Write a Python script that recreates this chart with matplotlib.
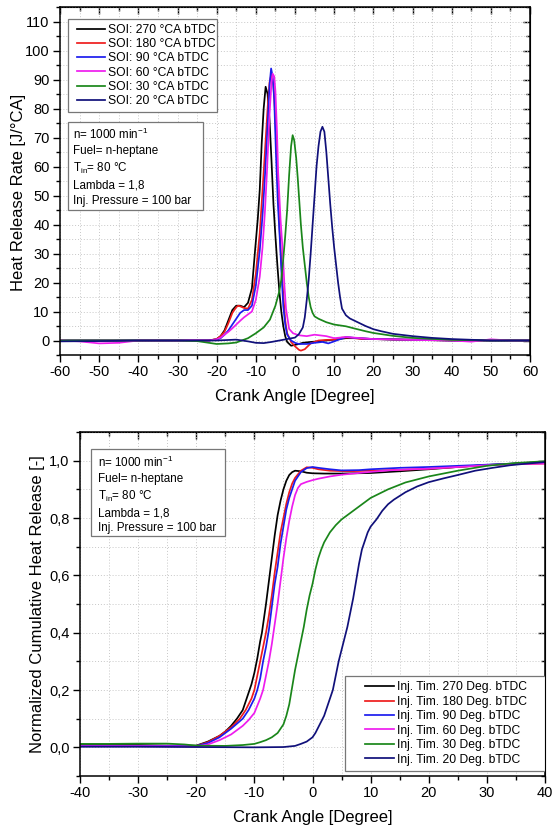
import matplotlib
matplotlib.use("Agg")
import matplotlib.pyplot as plt
from matplotlib.ticker import MultipleLocator, FuncFormatter
from matplotlib.patches import Rectangle

plt.rcParams['font.family'] = ['Liberation Sans', 'DejaVu Sans']
plt.rcParams['mathtext.fontset'] = 'custom'
plt.rcParams['mathtext.rm'] = 'Liberation Sans'
plt.rcParams['mathtext.it'] = 'Liberation Sans:italic'
plt.rcParams['mathtext.default'] = 'regular'
plt.rcParams['axes.unicode_minus'] = False

# ---------------- data: heat release rate (top) ----------------
hrr_labels = ["SOI: 270 °CA bTDC", "SOI: 180 °CA bTDC", "SOI: 90 °CA bTDC",
              "SOI: 60 °CA bTDC", "SOI: 30 °CA bTDC", "SOI: 20 °CA bTDC"]
colors = ["#000000", "#ee1c1c", "#1c1cee", "#ee1cee", "#1a861a", "#10107a"]

hrr_x_270 = [-60, -50, -40, -30, -25, -22, -20, -19, -18, -17, -16, -15, -14, -13, -12, -11, -10.2, -9.5, -9,
             -8.5, -8, -7.5, -7, -6.5, -6, -5.5, -5, -4.5, -4, -3.5, -3, -2.5, -2, -1, 0, 1, 2, 4, 6, 8, 10,
             13, 16, 20, 25, 30, 40, 50, 60]
hrr_y_270 = [0, 0, 0, 0, 0, 0, 0.5, 1.5, 3.5, 7, 10.5, 12, 12, 11.5, 13, 18, 31, 42, 52,
             68, 80, 87.5, 85, 76, 62, 47, 36, 26, 17, 10, 5, 1.5, -0.5, -1.8, -1.5, -1.2, -0.8, -0.5, -0.3, 0, 0.3,
             0.8, 0.8, 0.5, 0.3, 0.2, 0, 0, 0]

hrr_x_180 = [-60, -40, -30, -22, -20, -19, -18, -17, -16, -15, -14.5, -14, -13, -12, -11, -10, -9, -8, -7, -6.5,
             -6, -5.5, -5, -4.5, -4, -3.5, -3, -2.5, -2, -1, 0, 1, 1.5, 2.5, 4, 6, 8, 10, 12, 14, 17, 20,
             30, 40, 60]
hrr_y_180 = [0, 0, 0, 0, 0.5, 1.5, 3, 6, 9.5, 11.5, 12, 11.8, 11.2, 11, 14, 23, 37, 58, 80, 89,
             92, 88, 76, 58, 40, 27, 16, 7, 2.5, -0.5, -2, -3.2, -3.5, -3, -1, 0, 0.2, 0.3, 1, 1, 0.5, 0.5,
             0.3, 0, 0]

hrr_x_90 = [-60, -40, -30, -22, -20, -19, -18, -17, -16, -15, -14, -13, -12, -11, -10, -9, -8.3, -7.7, -7, -6.5,
            -6.1, -5.7, -5.3, -4.9, -4.4, -3.8, -3.4, -3, -2.5, -2, -1, 0, 1, 3, 5, 7, 8.5, 10, 13, 16, 20,
            30, 40, 60]
hrr_y_90 = [0, 0, 0, 0, 0.3, 0.8, 2, 3.5, 5.5, 7.5, 9.5, 10.5, 10.5, 12, 19, 31, 43, 56, 74, 88,
            93.8, 91, 83, 66, 48, 33, 22, 12, 5.5, 2, 0, -0.8, -1.2, -1.2, -0.8, -0.5, -1, -0.3, 1.2, 0.8, 0.5,
            0.3, 0, 0]

hrr_x_60 = [-60, -55, -50, -45, -40, -30, -22, -20, -19, -18, -17, -16, -15, -14, -13, -12, -11, -10, -9, -8.3,
            -7.7, -7.2, -6.5, -6, -5.7, -5.3, -5, -4.6, -4.3, -3.7, -3.1, -2.7, -2.3, -1.5, -0.5, 1, 3, 5, 8,
            10, 13, 20, 30, 40, 45, 50, 55, 60]
hrr_y_60 = [0, -0.3, -1, -0.8, 0, 0, 0, 0.4, 1, 2, 3, 4.2, 5.5, 6.8, 8, 9, 10, 14, 22, 32,
            44, 57, 78, 89, 92, 91, 86, 72, 58, 42, 30, 19, 11, 4, 2.5, 1.8, 1.5, 2, 1.5,
            0.8, 1.2, 0.5, 0.2, 0, -0.4, 0.4, 0, 0]

hrr_x_30 = [-60, -40, -30, -25, -22, -20, -17, -15, -12, -10, -8, -6.4, -5, -4, -3.5, -3, -2.5, -2, -1.5, -1,
            -0.6, -0.2, 0.3, 0.7, 1, 1.5, 2, 2.5, 3, 3.5, 4, 4.5, 5, 6, 8, 10, 13, 15, 18, 20, 25, 30, 40,
            50, 60]
hrr_y_30 = [0, 0, 0, -0.2, -0.8, -1.2, -1, -0.7, 0.8, 2.5, 4.5, 7.2, 12, 17, 21, 28, 36, 45, 57, 67,
            70.8, 69, 63, 56, 50, 40, 32, 26, 20, 15, 11.5, 9.5, 8.3, 7.5, 6.3, 5.5, 4.9, 4.2, 3.2, 2.6, 1.6,
            0.9, 0.2, 0, 0]

hrr_x_20 = [-60, -50, -40, -30, -25, -20, -15, -12, -10, -8, -6, -4, -2, 0, 1, 2, 2.5, 3, 3.5, 4, 4.5, 5, 5.5,
            6, 6.5, 7, 7.5, 8, 8.5, 9, 9.5, 10, 10.5, 11, 11.5, 12, 13, 14, 16, 18, 20, 22, 25, 30, 35, 40,
            50, 60]
hrr_y_20 = [-0.3, -0.2, 0, 0, 0, 0, 0.3, -0.3, -0.8, -0.9, -0.5, 0, 0.5, 1.0, 2.2, 4.5, 8, 14, 21, 30, 40, 50,
            60, 67, 72, 73.7, 72, 65, 56, 47, 39, 32, 26, 20, 15, 11, 8.7, 7.6, 6.3, 5, 3.9, 3.2, 2.3, 1.5,
            0.9, 0.5, 0, 0]

hrr_x = [hrr_x_270, hrr_x_180, hrr_x_90, hrr_x_60, hrr_x_30, hrr_x_20]
hrr_y = [hrr_y_270, hrr_y_180, hrr_y_90, hrr_y_60, hrr_y_30, hrr_y_20]

# ---------------- data: normalized cumulative heat release (bottom) ----------------
chr_labels = ["Inj. Tim. 270 Deg. bTDC", "Inj. Tim. 180 Deg. bTDC", "Inj. Tim. 90 Deg. bTDC",
              "Inj. Tim. 60 Deg. bTDC", "Inj. Tim. 30 Deg. bTDC", "Inj. Tim. 20 Deg. bTDC"]

chr_x_270 = [-40, -30, -25, -20, -18, -16, -15, -14, -13, -12, -11, -10.5, -10, -9.5, -9, -8.7, -8, -7.5, -7,
             -6.5, -6, -5.5, -5, -4.5, -4, -3.5, -3, -2, -1, 0, 2, 5, 10, 15, 20, 25, 30, 35, 40]
chr_y_270 = [0.008, 0.008, 0.006, 0.006, 0.02, 0.04, 0.055, 0.075, 0.1, 0.13, 0.19, 0.22, 0.26, 0.31, 0.37,
             0.4, 0.5, 0.58, 0.66, 0.74, 0.81, 0.86, 0.9, 0.93, 0.95, 0.96, 0.965, 0.963, 0.958, 0.956, 0.955,
             0.955, 0.957, 0.963, 0.97, 0.978, 0.985, 0.99, 0.996]

chr_x_180 = [-40, -30, -20, -18, -16, -14, -12.5, -11.5, -10.5, -10, -9.5, -9, -8.5, -8, -7.5, -7, -6.5, -6,
             -5.5, -5, -4.5, -4, -3.5, -3, -2, -1, 0, 1, 3, 6, 10, 15, 20, 25, 30, 35, 40]
chr_y_180 = [0.005, 0.005, 0.005, 0.018, 0.04, 0.07, 0.1, 0.13, 0.17, 0.2, 0.25, 0.3, 0.35, 0.4, 0.46, 0.53,
             0.61, 0.68, 0.75, 0.8, 0.85, 0.89, 0.92, 0.94, 0.965, 0.977, 0.975, 0.97, 0.965, 0.963, 0.965,
             0.968, 0.972, 0.978, 0.985, 0.988, 0.99]

chr_x_90 = [-40, -30, -20, -18, -16, -14, -12, -11, -10, -9.5, -9, -8.5, -8, -7.5, -7, -6.5, -6, -5.5, -5,
            -4.5, -4, -3.5, -3, -2, -1, 0, 1, 3, 5, 8, 10, 15, 20, 25, 30, 35, 40]
chr_y_90 = [0.005, 0.005, 0.005, 0.015, 0.035, 0.065, 0.1, 0.13, 0.17, 0.2, 0.24, 0.3, 0.35, 0.41, 0.49,
            0.57, 0.63, 0.71, 0.77, 0.83, 0.87, 0.9, 0.93, 0.96, 0.974, 0.978, 0.975, 0.97, 0.966, 0.967,
            0.97, 0.975, 0.978, 0.982, 0.986, 0.99, 0.993]

chr_x_60 = [-40, -30, -20, -18, -16, -14, -12, -11, -10, -9, -8.5, -8, -7.5, -7, -6.5, -6, -5.5, -5, -4.5,
            -4, -3.5, -3, -2.5, -2, -1, 0, 1, 3, 5, 8, 10, 13, 17, 20, 25, 30, 35, 40]
chr_y_60 = [0.004, 0.004, 0.003, 0.01, 0.025, 0.045, 0.075, 0.095, 0.12, 0.17, 0.2, 0.25, 0.3, 0.36, 0.43,
            0.5, 0.58, 0.66, 0.73, 0.79, 0.84, 0.88, 0.905, 0.918, 0.926, 0.932, 0.937, 0.945, 0.951, 0.957,
            0.961, 0.966, 0.97, 0.972, 0.978, 0.984, 0.988, 0.99]

chr_x_30 = [-40, -35, -30, -25, -22, -20, -15, -12, -10, -9, -8, -7, -6, -5.5, -5, -4.5, -4, -3.5, -3, -2.5,
            -2, -1.5, -1, -0.5, 0, 0.5, 1, 1.5, 2, 3, 4, 5, 6, 8, 10, 13, 16, 20, 25, 30, 35, 40]
chr_y_30 = [0.012, 0.012, 0.013, 0.013, 0.01, 0.006, 0.005, 0.008, 0.012, 0.018, 0.025, 0.035, 0.05, 0.065,
            0.08, 0.11, 0.15, 0.21, 0.27, 0.32, 0.37, 0.42, 0.48, 0.53, 0.57, 0.62, 0.66, 0.69, 0.715, 0.75,
            0.775, 0.795, 0.81, 0.84, 0.87, 0.9, 0.924, 0.945, 0.965, 0.982, 0.992, 0.998]

chr_x_20 = [-40, -30, -20, -10, -5, -3, -2, -1, 0, 0.5, 1, 1.5, 2, 2.5, 3, 3.5, 4, 4.5, 5, 5.5, 6, 6.5, 7,
            7.5, 8, 8.5, 9, 9.5, 10, 11, 12, 13, 14, 16, 18, 20, 22.5, 25, 28, 31, 34, 37, 40]
chr_y_20 = [0.002, 0.002, 0.001, 0.0, 0.001, 0.005, 0.012, 0.02, 0.035, 0.05, 0.07, 0.09, 0.11, 0.14, 0.17,
            0.2, 0.25, 0.3, 0.34, 0.38, 0.42, 0.47, 0.52, 0.58, 0.64, 0.69, 0.72, 0.75, 0.77, 0.795, 0.825,
            0.848, 0.864, 0.89, 0.91, 0.925, 0.938, 0.95, 0.965, 0.975, 0.984, 0.99, 0.995]

chr_x = [chr_x_270, chr_x_180, chr_x_90, chr_x_60, chr_x_30, chr_x_20]
chr_y = [chr_y_270, chr_y_180, chr_y_90, chr_y_60, chr_y_30, chr_y_20]

info_text = ("n= 1000 min$^{-1}$\nFuel= n-heptane\nT$_{in}$= 80 °C\n"
             "Lambda = 1,8\nInj. Pressure = 100 bar")

# ---------------- figure ----------------
W, H = 552, 827
fig = plt.figure(figsize=(W / 100, H / 100), dpi=100)


def px_axes(left, top, right, bottom):
    return fig.add_axes([left / W, 1 - bottom / H, (right - left) / W, (bottom - top) / H])


def style_axes(ax, xmaj, xmin, ymaj, ymin):
    ax.xaxis.set_major_locator(MultipleLocator(xmaj))
    ax.xaxis.set_minor_locator(MultipleLocator(xmin))
    ax.yaxis.set_major_locator(MultipleLocator(ymaj))
    ax.yaxis.set_minor_locator(MultipleLocator(ymin))
    ax.grid(which='both', linestyle=(0, (1, 2)), color='#c8c8c8', linewidth=0.7)
    ax.set_axisbelow(True)
    for s in ax.spines.values():
        s.set_linewidth(1.1)
    ax.tick_params(which='both', direction='out', top=False, right=False, width=1.0,
                   labelsize=10.5, pad=2.5)
    ax.tick_params(which='major', length=5)
    ax.tick_params(which='minor', length=3)
    sx = ax.secondary_xaxis('top')
    sx.xaxis.set_major_locator(MultipleLocator(xmaj))
    sx.xaxis.set_minor_locator(MultipleLocator(xmin))
    sx.tick_params(which='both', direction='in', labeltop=False, width=1.0)
    sx.tick_params(which='major', length=5)
    sx.tick_params(which='minor', length=3)
    sy = ax.secondary_yaxis('right')
    sy.yaxis.set_major_locator(MultipleLocator(ymaj))
    sy.yaxis.set_minor_locator(MultipleLocator(ymin))
    sy.tick_params(which='both', direction='in', labelright=False, width=1.0)
    sy.tick_params(which='major', length=5)
    sy.tick_params(which='minor', length=3)


def px_box(ax, ax_left, ax_top, ax_w, ax_h, l, t, r, b):
    """frame drawn in axes coordinates from pixel corners"""
    x0 = (l - ax_left) / ax_w
    y0 = (ax_top + ax_h - b) / ax_h
    rect = Rectangle((x0, y0), (r - l) / ax_w, (b - t) / ax_h, transform=ax.transAxes,
                     fc='white', ec='#777777', lw=0.9, zorder=4)
    ax.add_patch(rect)


# ---- top panel ----
A1 = (60, 7, 470, 348)
ax1 = px_axes(60, 7, 530, 355)
for xs, ys, c, lab in zip(hrr_x, hrr_y, colors, hrr_labels):
    ax1.plot(xs, ys, color=c, lw=1.25, label=lab)
ax1.set_xlim(-60, 60)
ax1.set_ylim(-5, 115)
style_axes(ax1, 10, 5, 10, 5)
ax1.set_xlabel("Crank Angle [Degree]", fontsize=12, labelpad=7)
ax1.set_ylabel("Heat Release Rate [J/°CA]", fontsize=12, labelpad=-0.5)
ax1.yaxis.label.set_y(0.466)

px_box(ax1, *A1, 67.7, 19, 217, 112)
leg1 = ax1.legend(loc='center left', bbox_to_anchor=((77 - 60) / 470, (355 - 65.5) / 348),
                  borderaxespad=0, borderpad=0, frameon=False,
                  fontsize=8.7, handlelength=2.3, handletextpad=0.28, labelspacing=0.19)
leg1.set_zorder(5)

px_box(ax1, *A1, 67.7, 122, 202.7, 210)
ax1.text((73 - 60) / 470, (355 - 127) / 348, info_text, transform=ax1.transAxes, fontsize=8.4,
         va='top', ha='left', linespacing=1.36, zorder=6)

# ---- bottom panel ----
A2 = (80, 432, 465, 344)
ax2 = px_axes(80, 432, 545, 776)
for xs, ys, c, lab in zip(chr_x, chr_y, colors, chr_labels):
    ax2.plot(xs, ys, color=c, lw=1.25, label=lab)
ax2.set_xlim(-40, 40)
ax2.set_ylim(-0.1, 1.1)
style_axes(ax2, 10, 5, 0.2, 0.1)
ax2.yaxis.set_major_formatter(FuncFormatter(lambda v, p: f"{v:.1f}".replace('.', ',')))
ax2.set_xlabel("Crank Angle [Degree]", fontsize=12, labelpad=7)
ax2.set_ylabel("Normalized Cumulative Heat Release [-]", fontsize=12, labelpad=3)

px_box(ax2, *A2, 345, 676, 545, 771)
leg2 = ax2.legend(loc='center left', bbox_to_anchor=((365 - 80) / 465, (776 - 723.5) / 344),
                  borderaxespad=0, borderpad=0, frameon=False,
                  fontsize=8.7, handlelength=2.4, handletextpad=0.25, labelspacing=0.2)
leg2.set_zorder(5)

px_box(ax2, *A2, 91, 449.3, 225, 536)
ax2.text((97.5 - 80) / 465, (776 - 455) / 344, info_text, transform=ax2.transAxes, fontsize=8.4,
         va='top', ha='left', linespacing=1.34, zorder=6)

fig.savefig("out.png", dpi=100)
